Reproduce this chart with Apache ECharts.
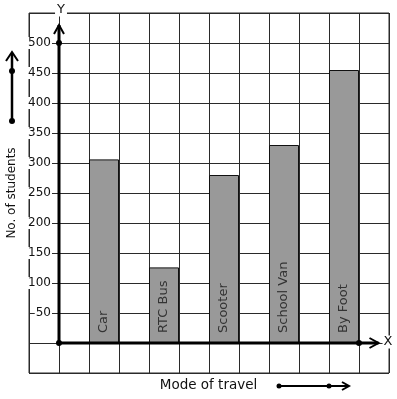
<!DOCTYPE html>
<html>
<head>
<meta charset="utf-8">
<script src="https://cdn.jsdelivr.net/npm/echarts@6/dist/echarts.min.js"></script>
<style>html,body{margin:0;padding:0;background:#fff;}#c{width:397px;height:399px;}</style>
</head>
<body>
<div id="c"></div>
<script>
const categories = ['Car', 'RTC Bus', 'Scooter', 'School Van', 'By Foot'];
const students = [306, 126, 280, 330, 455];
const yTickLabels = [50, 100, 150, 200, 250, 300, 350, 400, 450, 500];
const xAxisTitle = 'Mode of travel';
const yAxisTitle = 'No. of students';

const FONT = 'DejaVu Sans';
const GRID = '#2a2a2a';

const chart = echarts.init(document.getElementById('c'), null, {renderer: 'canvas'});
chart.setOption({
  animation: false,
  backgroundColor: '#fff',
  grid: {left: 29, top: 13, width: 360, height: 360, show: true, borderColor: GRID, borderWidth: 1, backgroundColor: 'transparent'},
  xAxis: {
    type: 'value', min: -1, max: 11, interval: 1,
    axisLine: {show: false}, axisTick: {show: false}, axisLabel: {show: false},
    splitLine: {show: true, lineStyle: {color: GRID, width: 1}}
  },
  yAxis: {
    type: 'value', min: -50, max: 550, interval: 50, offset: -30,
    axisLine: {show: false}, axisTick: {show: false},
    axisLabel: {
      formatter: v => yTickLabels.includes(v) ? String(v) : '',
      backgroundColor: '#fff', padding: [0, 1], margin: 7,
      fontSize: 12, color: '#111', fontFamily: FONT
    },
    splitLine: {show: true, lineStyle: {color: GRID, width: 1}}
  },
  series: [{
    type: 'bar',
    barWidth: 30,
    z: 3,
    itemStyle: {color: '#999999', borderColor: '#111', borderWidth: 1},
    label: {
      show: true, position: 'insideBottom', rotate: 90, align: 'left', verticalAlign: 'middle',
      distance: 10, formatter: '{b}', fontSize: 13, color: '#333', fontFamily: FONT
    },
    data: categories.map((c, i) => ({name: c, value: [2 * i + 1.5, students[i]]}))
  }]
});

const P = (x, y) => chart.convertToPixel({gridIndex: 0}, [x, y]);
const o = P(0, 0), yDot = P(0, 500), yTip = P(0, 530), xDot = P(10, 0), xTip = P(10.65, 0);
const topY = P(0, 550)[1], rightX = P(11, 0)[0];
const blk = '#000';
const dot = (p, r) => ({type: 'circle', z: 10, shape: {cx: p[0], cy: p[1], r: r || 3}, style: {fill: blk}});
const line = (a, b, w) => ({type: 'line', z: 10, shape: {x1: a[0], y1: a[1], x2: b[0], y2: b[1]}, style: {stroke: blk, lineWidth: w}});
const poly = (pts, w) => ({type: 'polyline', z: 10, shape: {points: pts}, style: {stroke: blk, lineWidth: w, fill: null}});

chart.setOption({
  graphic: [
    line(o, yTip, 3),
    poly([[yTip[0] - 5, yTip[1] + 9], [yTip[0], yTip[1]], [yTip[0] + 5, yTip[1] + 9]], 2),
    line(o, xTip, 3),
    poly([[xTip[0] - 9, xTip[1] - 5], [xTip[0], xTip[1]], [xTip[0] - 9, xTip[1] + 5]], 2),
    dot(o), dot(yDot), dot(xDot),
    {type: 'text', z: 11, style: {text: 'Y', x: yTip[0] + 2, y: topY - 3, align: 'center', verticalAlign: 'middle', fontSize: 13, fontFamily: FONT, fill: '#111', backgroundColor: '#fff', padding: [0, 2]}},
    {type: 'text', z: 11, style: {text: 'X', x: rightX - 1, y: o[1] - 1, align: 'center', verticalAlign: 'middle', fontSize: 13, fontFamily: FONT, fill: '#111', backgroundColor: '#fff', padding: [0, 1]}},
    // y title with arrow
    {type: 'text', z: 11, x: 12, y: 193, rotation: Math.PI / 2, style: {text: yAxisTitle, x: 0, y: 0, align: 'center', verticalAlign: 'middle', fontSize: 12, fontFamily: FONT, fill: '#111'}},
    line([12, 121], [12, 53], 2.5),
    poly([[6, 61], [12, 52], [18, 61]], 2),
    dot([12, 121]), dot([12, 71]),
    // x title with arrow
    {type: 'text', z: 11, style: {text: xAxisTitle, x: 208.5, y: 385, align: 'center', verticalAlign: 'middle', fontSize: 13.5, fontFamily: FONT, fill: '#111'}},
    line([279, 386], [349, 386], 2),
    poly([[342, 382], [349, 386], [342, 390]], 2),
    dot([279, 386], 2.5), dot([329, 386], 2.5)
  ]
});
</script>
</body>
</html>
